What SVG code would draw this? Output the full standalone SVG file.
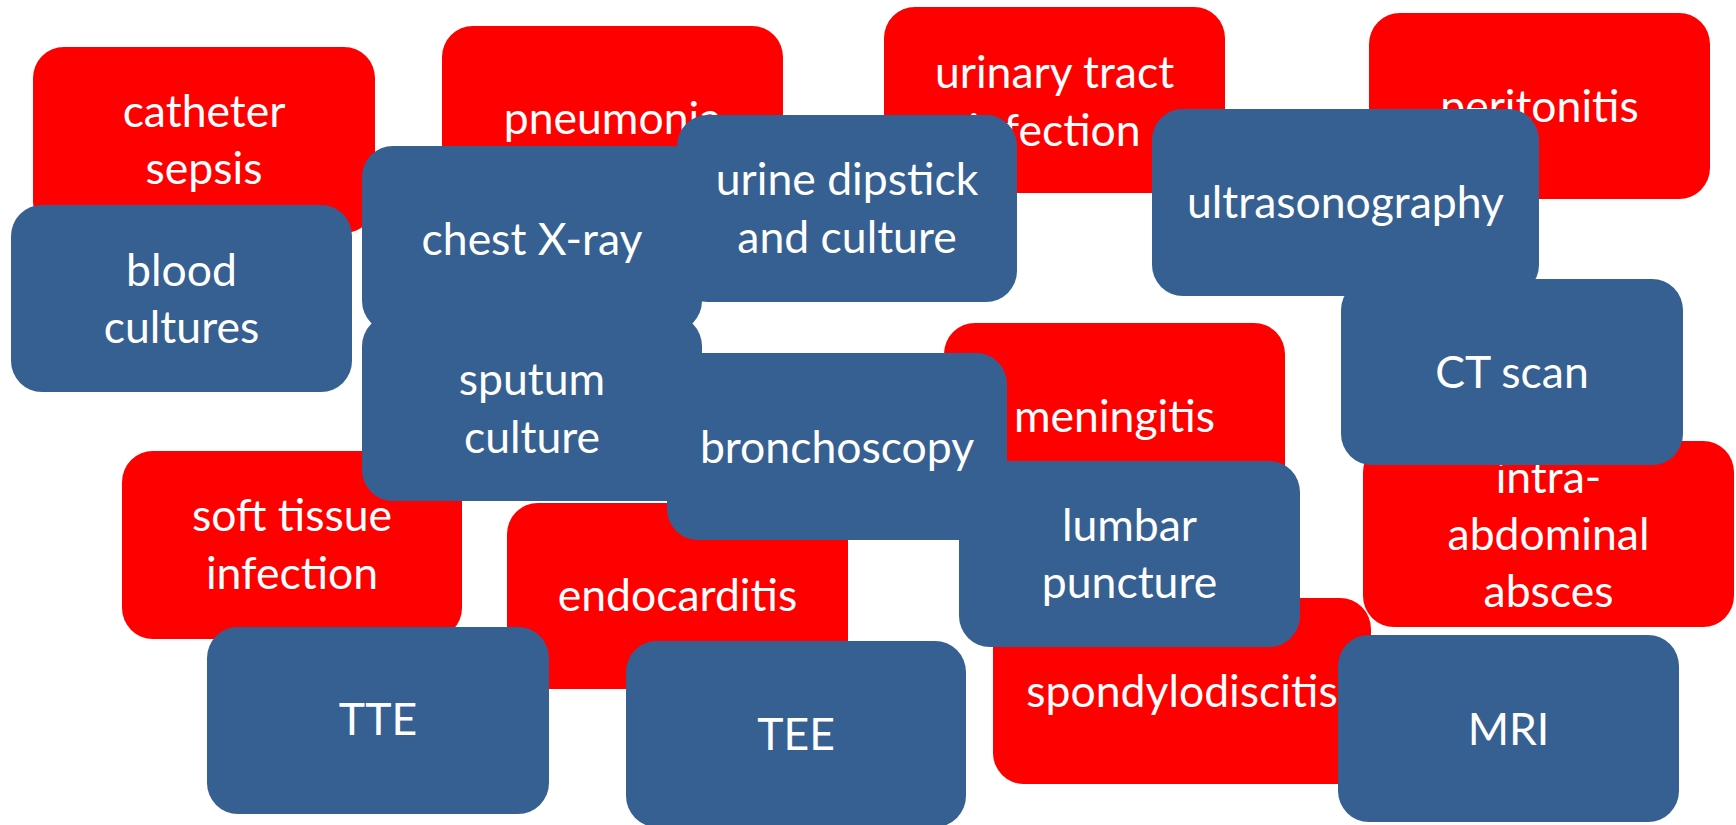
<svg xmlns="http://www.w3.org/2000/svg" width="1736" height="825" viewBox="0 0 1736 825">
<style>
.red{fill:#FF0000}
.blue{fill:#376092}
text{font-family:Lato,"Liberation Sans",sans-serif;font-size:44.5px;fill:#FFFFFF;text-anchor:middle}
</style>
<rect width="1736" height="825" fill="#FFFFFF"/>
<g id="catheter-sepsis"><rect class="red" x="33" y="47" width="342" height="186" rx="31"/><text x="204" y="127">catheter</text><text x="204" y="184">sepsis</text></g>
<g id="pneumonia"><rect class="red" x="442" y="26" width="341" height="186" rx="31"/><text x="612.5" y="134">pneumonia</text></g>
<g id="urinary-tract-infection"><rect class="red" x="884" y="7" width="341" height="186" rx="31"/><text x="1054.5" y="88">urinary tract</text><text x="1054.5" y="146">infection</text></g>
<g id="peritonitis"><rect class="red" x="1369" y="13" width="341" height="186" rx="31"/><text x="1539.5" y="122">peritonitis</text></g>
<g id="meningitis"><rect class="red" x="944" y="323" width="341" height="186" rx="31"/><text x="1114.5" y="432">meningitis</text></g>
<g id="soft-tissue-infection"><rect class="red" x="122" y="451" width="340" height="188" rx="31"/><text x="292" y="531">soft tissue</text><text x="292" y="589">infection</text></g>
<g id="endocarditis"><rect class="red" x="507" y="503" width="341" height="186" rx="31"/><text x="677.5" y="611">endocarditis</text></g>
<g id="spondylodiscitis"><rect class="red" x="993" y="598" width="378" height="186" rx="31"/><text x="1182" y="707">spondylodiscitis</text></g>
<g id="intra-abdominal-absces"><rect class="red" x="1363" y="441" width="371" height="186" rx="31"/><text x="1548.5" y="493">intra-</text><text x="1548.5" y="550">abdominal</text><text x="1548.5" y="607">absces</text></g>
<g id="blood-cultures"><rect class="blue" x="11" y="205" width="341" height="187" rx="31"/><text x="181.5" y="286">blood</text><text x="181.5" y="343">cultures</text></g>
<g id="chest-x-ray"><rect class="blue" x="362" y="146" width="340" height="186" rx="31"/><text x="532" y="255">chest X-ray</text></g>
<g id="urine-dipstick"><rect class="blue" x="677" y="115" width="340" height="187" rx="31"/><text x="847" y="195">urine dipstick</text><text x="847" y="253">and culture</text></g>
<g id="ultrasonography"><rect class="blue" x="1152" y="109" width="387" height="187" rx="31"/><text x="1345.5" y="218">ultrasonography</text></g>
<g id="ct-scan"><rect class="blue" x="1341" y="279" width="342" height="186" rx="31"/><text x="1512" y="388">CT scan</text></g>
<g id="sputum-culture"><rect class="blue" x="362" y="315" width="340" height="186" rx="31"/><text x="532" y="395">sputum</text><text x="532" y="453">culture</text></g>
<g id="bronchoscopy"><rect class="blue" x="667" y="353" width="340" height="187" rx="31"/><text x="837" y="463">bronchoscopy</text></g>
<g id="lumbar-puncture"><rect class="blue" x="959" y="461" width="341" height="186" rx="31"/><text x="1129.5" y="541">lumbar</text><text x="1129.5" y="598">puncture</text></g>
<g id="tte"><rect class="blue" x="207" y="627" width="342" height="187" rx="31"/><text x="378" y="735">TTE</text></g>
<g id="tee"><rect class="blue" x="626" y="641" width="340" height="186" rx="31"/><text x="796" y="750">TEE</text></g>
<g id="mri"><rect class="blue" x="1338" y="635" width="341" height="187" rx="31"/><text x="1508.5" y="745">MRI</text></g>
<g id="connectors"/>
</svg>
